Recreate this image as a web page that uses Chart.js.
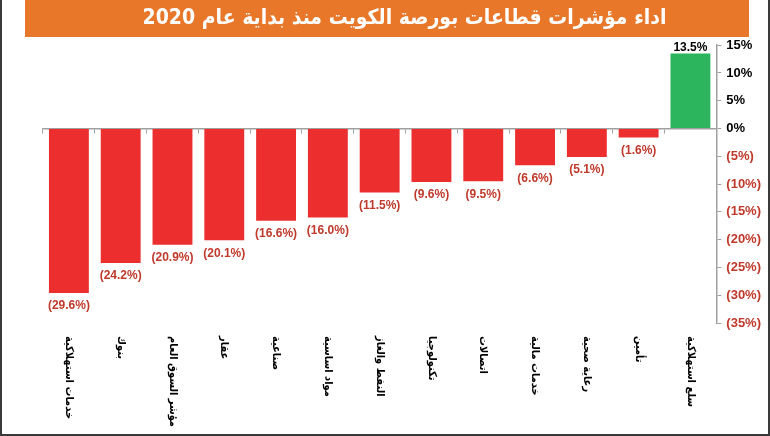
<!DOCTYPE html>
<html>
<head>
<meta charset="utf-8">
<script src="https://cdn.jsdelivr.net/npm/chart.js@4/dist/chart.umd.min.js"></script>
<style>
  html, body { margin: 0; padding: 0; background: #fff; }
</style>
</head>
<body>
<canvas id="chart" width="770" height="436"></canvas>
<script>
// sectors, left to right as in the picture
const sectors = [
  'خدمات استهلاكية', 'بنوك', 'مؤشر السوق العام', 'عقار', 'صناعية', 'مواد اساسية',
  'النفط والغاز', 'تكنولوجيا', 'اتصالات', 'خدمات مالية', 'رعاية صحية', 'تأمين', 'سلع استهلاكية'
];
// change since start of 2020, in %
const changes = [-29.6, -24.2, -20.9, -20.1, -16.6, -16.0, -11.5, -9.6, -9.5, -6.6, -5.1, -1.6, 13.5];
const yTickValues = [15, 10, 5, 0, -5, -10, -15, -20, -25, -30, -35];

const RED = '#ec2e2e';
const GREEN = '#2db55d';
const LABEL_RED = '#c0392b';

function pct(v, digits) {
  const s = Math.abs(v).toFixed(digits) + '%';
  return v < 0 ? '(' + s + ')' : s;
}

// orange band behind the title and the frame round the picture
const frame = {
  id: 'frame',
  beforeDraw(chart) {
    const ctx = chart.ctx;
    ctx.save();
    ctx.fillStyle = '#e8772a';
    ctx.fillRect(25, 0, 724, 37);
    ctx.restore();
  },
  afterDraw(chart) {
    const ctx = chart.ctx;
    ctx.save();
    ctx.strokeStyle = '#3a3a3a';
    ctx.lineWidth = 2;
    ctx.beginPath();
    ctx.moveTo(1, 0);
    ctx.lineTo(1, 435);
    ctx.lineTo(769, 435);
    ctx.lineTo(769, 0);
    ctx.stroke();
    ctx.restore();
  }
};

// value labels on the bars
const valueLabels = {
  id: 'valueLabels',
  afterDatasetsDraw(chart) {
    const ctx = chart.ctx;
    const meta = chart.getDatasetMeta(0);
    ctx.save();
    ctx.font = 'bold 12px "Liberation Sans", Arial, sans-serif';
    ctx.textAlign = 'center';
    meta.data.forEach((bar, i) => {
      const v = changes[i];
      if (v < 0) {
        ctx.fillStyle = LABEL_RED;
        ctx.textBaseline = 'top';
        ctx.fillText(pct(v, 1), bar.x, bar.y + 7);
      } else {
        ctx.fillStyle = '#000';
        ctx.textBaseline = 'bottom';
        ctx.fillText(pct(v, 1), bar.x, bar.y);
      }
    });
    ctx.restore();
  }
};

// sector names, turned a quarter clockwise under the plot
const sectorLabels = {
  id: 'sectorLabels',
  afterDraw(chart) {
    const ctx = chart.ctx;
    const x = chart.scales.x;
    ctx.save();
    ctx.font = 'bold 11px "DejaVu Sans Condensed", "DejaVu Sans", sans-serif';
    ctx.fillStyle = '#000';
    ctx.textAlign = 'left';
    ctx.textBaseline = 'middle';
    sectors.forEach((name, i) => {
      ctx.save();
      ctx.translate(x.getPixelForValue(i), 336);
      ctx.rotate(Math.PI / 2);
      ctx.fillText(name, 0, 0);
      ctx.restore();
    });
    ctx.restore();
  }
};

new Chart(document.getElementById('chart'), {
  type: 'bar',
  data: {
    labels: sectors,
    datasets: [{
      data: changes,
      backgroundColor: changes.map(v => v < 0 ? RED : GREEN),
      borderWidth: 0,
      barPercentage: 0.77,
      categoryPercentage: 1
    }]
  },
  options: {
    responsive: false,
    devicePixelRatio: 1,
    animation: false,
    layout: { padding: { left: 43, right: 4, top: 0, bottom: 113 } },
    plugins: {
      legend: { display: false },
      tooltip: { enabled: false },
      title: {
        display: true,
        text: 'اداء مؤشرات قطاعات بورصة الكويت منذ بداية عام 2020',
        color: '#fff',
        font: { family: '"DejaVu Sans Condensed", "DejaVu Sans", sans-serif', size: 21, weight: 'bold' },
        padding: { top: 6, bottom: 14 }
      }
    },
    scales: {
      x: {
        position: { y: 0 },
        grid: { drawOnChartArea: false, drawTicks: true, tickLength: 4, color: '#a0a0a0', offset: true },
        border: { display: true, color: '#a0a0a0', width: 1.5 },
        ticks: { display: false }
      },
      y: {
        position: 'right',
        min: -35,
        max: 15,
        afterBuildTicks: s => { s.ticks = yTickValues.map(v => ({ value: v })); },
        grid: { drawOnChartArea: false, tickLength: 5, color: '#a0a0a0' },
        border: { color: '#a0a0a0', width: 1.5 },
        ticks: {
          padding: 5,
          color: c => c.tick.value < 0 ? LABEL_RED : '#000',
          font: { family: '"Liberation Sans", Arial, sans-serif', size: 13, weight: 'bold' },
          callback: v => pct(v, 0)
        }
      }
    }
  },
  plugins: [frame, valueLabels, sectorLabels]
});
</script>
</body>
</html>
